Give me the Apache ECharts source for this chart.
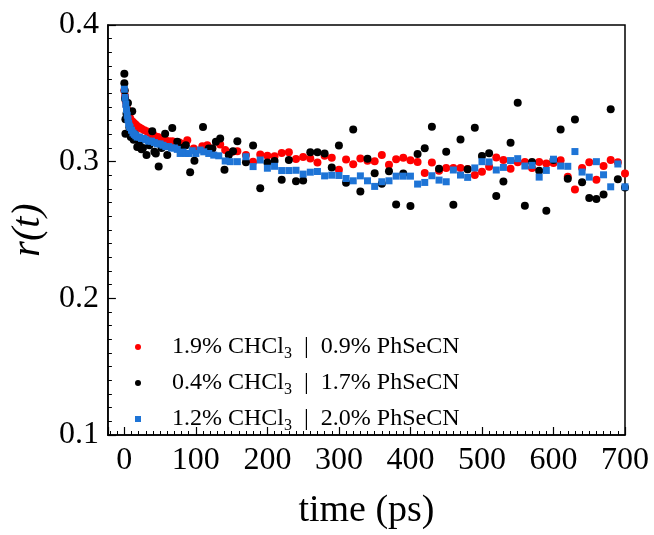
<!DOCTYPE html>
<html><head><meta charset="utf-8">
<script src="https://cdn.jsdelivr.net/npm/echarts@6/dist/echarts.min.js"></script>
<style>html,body{margin:0;padding:0;background:#fff}#c{width:654px;height:535px}</style>
</head><body><div id="c"></div>
<script>
// ---- data ----
const xTickValues = [0, 100, 200, 300, 400, 500, 600, 700];
const yTickValues = [0.1, 0.2, 0.3, 0.4];
const seriesLabels = [
  ['1.9% CHCl', '3', '0.9% PhSeCN'],
  ['0.4% CHCl', '3', '1.7% PhSeCN'],
  ['1.2% CHCl', '3', '2.0% PhSeCN']
];
const redData = [
  [0,0.352],[1,0.348],[2,0.344],[3,0.341],[4,0.338],[5,0.336],[6,0.334],[8,0.332],[10,0.330],[12,0.329],
  [14,0.328],[16,0.327],[18,0.326],[21,0.325],[24,0.324],[28,0.323],[32,0.322],[37,0.320],[42,0.319],[47,0.318],
  [52,0.317],[57,0.316],[62,0.315],[67,0.315],[72,0.314],[77,0.314],[82,0.313],[88,0.3157],[97,0.3097],[109,0.3113],
  [116,0.3121],[123,0.3097],[134,0.3125],[141,0.3085],[151,0.3072],[158,0.3077],
  [170,0.3048],[180,0.3000],[190,0.3053],[200,0.3043],[210,0.3039],[220,0.3063],[230,0.3068],[240,0.3019],[250,0.3034],
  [260,0.3024],[270,0.2993],[280,0.3043],[290,0.3029],[300,0.2940],[310,0.3015],[320,0.2981],[330,0.3024],[340,0.3007],
  [350,0.3003],[360,0.3048],[370,0.2978],[380,0.3017],[390,0.3029],[400,0.3010],[410,0.2998],
  [420,0.2917],[430,0.2993],[440,0.2934],[450,0.2954],[460,0.2954],[470,0.2954],[480,0.2946],[490,0.2902],[500,0.2927],
  [510,0.2963],[520,0.3030],[530,0.3013],[540,0.2949],[550,0.2995],[560,0.2998],[570,0.2954],[580,0.2998],[590,0.2986],
  [600,0.2990],[610,0.3010],[620,0.2890],[630,0.2796],[640,0.2954],[650,0.2995],[660,0.2867],[670,0.2968],[680,0.3013],
  [690,0.2995],[700,0.2914]
];
const blackData = [
  [0,0.3643],[0,0.3574],[0.5,0.352],[1,0.346],[1.5,0.331],[1.5,0.3205],[3,0.335],[5,0.3429],[7,0.325],[9,0.318],
  [11,0.3369],[13,0.316],[15,0.320],[18,0.3108],[21,0.313],[24,0.309],[26,0.310],[31,0.3048],[35,0.312],[39,0.3222],
  [42,0.3072],[44,0.306],[48,0.2964],[52,0.310],[57,0.3205],[60,0.3048],[67,0.3246],[74,0.3145],[81,0.3101],[86,0.312],
  [92,0.2923],[98,0.3007],[110,0.3253],[118,0.3097],[123,0.3097],[128,0.3145],[134,0.3169],[140,0.2940],[146,0.3048],
  [152,0.3077],[158,0.3150],
  [170,0.2995],[180,0.3118],[190,0.2805],[200,0.2993],[210,0.3005],[220,0.2868],[230,0.3012],[240,0.2856],[250,0.2863],
  [260,0.3068],[270,0.3068],[280,0.3060],[290,0.2957],[300,0.3118],[310,0.2846],[320,0.3236],[330,0.2781],[340,0.3022],
  [350,0.2916],[360,0.2839],[370,0.2930],[380,0.2687],[390,0.2913],[400,0.2675],[410,0.3056],
  [420,0.3099],[430,0.3256],[440,0.2949],[450,0.3072],[460,0.2685],[470,0.3163],[480,0.2944],[490,0.3249],[500,0.3042],
  [510,0.3062],[520,0.2749],[530,0.2855],[540,0.3138],[550,0.3431],[560,0.2678],[570,0.2998],[580,0.2934],[590,0.2641],
  [600,0.3013],[610,0.3236],[620,0.2875],[630,0.3308],[640,0.2850],[650,0.2735],[660,0.2727],[670,0.2759],[680,0.3384],
  [690,0.2872],[700,0.2811]
];
const blueData = [
  [0,0.353],[1,0.347],[2,0.342],[3,0.338],[4,0.334],[5,0.331],[6,0.328],[7,0.326],[8,0.325],[10,0.323],
  [12,0.321],[14,0.320],[16,0.319],[18,0.318],[21,0.318],[24,0.317],[27,0.317],[30,0.316],[34,0.315],[38,0.315],
  [42,0.314],[46,0.313],[50,0.313],[54,0.312],[58,0.311],[62,0.311],[66,0.310],[70,0.310],[74,0.309],[78,0.306],
  [82,0.307],[86,0.306],[90,0.306],[95,0.308],[100,0.306],[106,0.3085],[111,0.3072],[118,0.3060],[125,0.3048],
  [132,0.3043],[141,0.3005],[148,0.3000],[158,0.3000],
  [170,0.3036],[180,0.2964],[190,0.3012],[200,0.2952],[210,0.2966],[220,0.2935],[230,0.2935],[240,0.2937],[250,0.2909],
  [260,0.2923],[270,0.2928],[280,0.2896],[290,0.2901],[300,0.2899],[310,0.2877],[320,0.2860],[330,0.2896],[340,0.2860],
  [350,0.2819],[360,0.2853],[370,0.2860],[380,0.2894],[390,0.2894],[400,0.2894],[410,0.2836],
  [420,0.2848],[430,0.2897],[440,0.2865],[450,0.2853],[460,0.2939],[470,0.2902],[480,0.2885],[490,0.2954],[500,0.3000],
  [510,0.2998],[520,0.2939],[530,0.2958],[540,0.3008],[550,0.3022],[560,0.2968],[570,0.2973],[580,0.2887],[590,0.2936],
  [600,0.3018],[610,0.2968],[620,0.2966],[630,0.3074],[640,0.2924],[650,0.2887],[660,0.3000],[670,0.2904],[680,0.2816],
  [690,0.2983],[700,0.2816]
];

// ---- chart ----
const FONT = 'Liberation Serif';
const names = seriesLabels.map(p => p[0] + p[1] + '  |  ' + p[2]);
const chart = echarts.init(document.getElementById('c'), null, {renderer: 'canvas'});
chart.setOption({
  animation: false,
  backgroundColor: '#fff',
  grid: {left: 106, right: 29, top: 25, bottom: 95, show: true, borderColor: '#000', borderWidth: 1.5},
  legend: {
    orient: 'vertical', left: 130, top: 327, itemWidth: 58, itemHeight: 6, itemGap: 6,
    selectedMode: false, symbolKeepAspect: true,
    data: [
      {name: names[0], icon: 'circle'},
      {name: names[1], icon: 'circle'},
      {name: names[2], icon: 'path://M0,0L10,0L10,10L0,10Z'}
    ],
    formatter: function (name) {
      const p = seriesLabels[names.indexOf(name)];
      return p[0] + '{sub|' + p[1] + '}  |  ' + p[2];
    },
    textStyle: {
      fontFamily: FONT, fontSize: 24, color: '#000', lineHeight: 30,
      rich: {sub: {fontFamily: FONT, fontSize: 16, color: '#000', padding: [14, 0, 0, 0]}}
    }
  },
  xAxis: [
    {
      type: 'value', min: -23, max: 700, splitNumber: 7, position: 'bottom',
      axisLine: {show: true, onZero: false, lineStyle: {color: '#000', width: 1.5}},
      axisTick: {show: true, inside: true, length: 8, lineStyle: {color: '#000', width: 1.2}},
      axisLabel: {
        fontFamily: FONT, fontSize: 32, color: '#000', margin: 10,
        formatter: v => xTickValues.indexOf(v) >= 0 ? String(v) : ''
      },
      splitLine: {show: false},
      name: 'time (ps)', nameLocation: 'middle', nameGap: 57,
      nameTextStyle: {fontFamily: FONT, fontSize: 38, color: '#000'}
    },
    {
      type: 'value', min: -23, max: 700, splitNumber: 72, position: 'bottom',
      axisLine: {show: false, onZero: false},
      axisTick: {show: true, inside: true, length: 4, lineStyle: {color: '#000', width: 1}},
      axisLabel: {show: false}, splitLine: {show: false}
    }
  ],
  yAxis: {
    type: 'value', min: 0.1, max: 0.4, interval: 0.1,
    axisLine: {show: true, onZero: false, lineStyle: {color: '#000', width: 1.5}},
    axisTick: {show: true, inside: true, length: 8, lineStyle: {color: '#000', width: 1.2}},
    minorTick: {show: true, splitNumber: 10, length: 4, lineStyle: {color: '#000', width: 1}},
    axisLabel: {
      fontFamily: FONT, fontSize: 32, color: '#000', margin: 9,
      formatter: v => {
        const m = yTickValues.find(t => Math.abs(t - v) < 1e-9);
        return m !== undefined ? m.toFixed(1) : '';
      }
    },
    splitLine: {show: false},
    name: 'r(t)', nameLocation: 'middle', nameGap: 54,
    nameTextStyle: {fontFamily: FONT, fontSize: 40, fontStyle: 'italic', color: '#000'}
  },
  series: [
    {type: 'scatter', name: names[0], data: redData, symbol: 'circle', symbolSize: 8,
     itemStyle: {color: '#ff0000', opacity: 1}, z: 2},
    {type: 'scatter', name: names[1], data: blackData, symbol: 'circle', symbolSize: 8,
     itemStyle: {color: '#000000', opacity: 1}, z: 3},
    {type: 'scatter', name: names[2], data: blueData, symbol: 'rect', symbolSize: 7,
     itemStyle: {color: '#1e74d6', opacity: 1}, z: 4}
  ]
});
</script></body></html>
